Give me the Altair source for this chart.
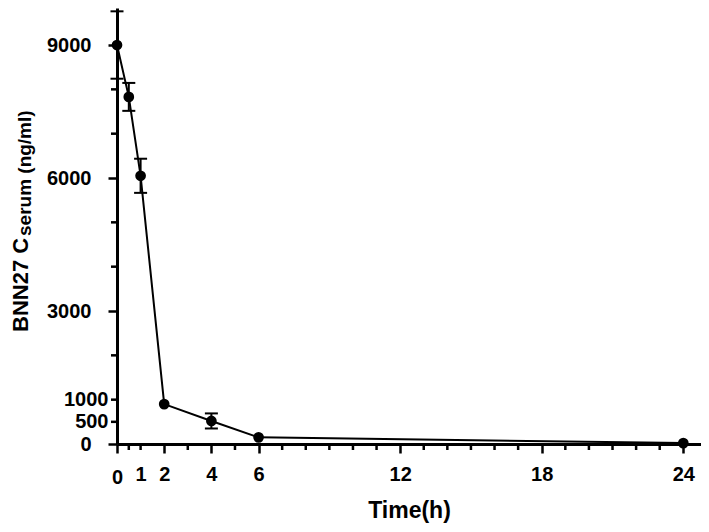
import altair as alt
import pandas as pd

# ---- data ----
time_h = [0, 0.5, 1, 2, 4, 6, 24]
conc = [9000, 7830, 6050, 900, 520, 150, 20]
sd = [760, 315, 385, 0, 170, 0, 0]

x_labeled = [0, 1, 2, 4, 6, 12, 18, 24]
x_minor = [0.5, 1, 3, 5, 7, 8, 9, 10, 11, 13, 14, 15, 16, 17, 19, 20, 21, 22, 23]
y_labeled = [0, 500, 1000, 3000, 6000, 9000]
y_minor = [500, 1000, 2000, 4000, 5000, 7000, 8000]

x_title = "Time(h)"
y_title_main = "BNN27 C"
y_title_sub = "serum (ng/ml)"

df = pd.DataFrame({"time": time_h, "conc": conc, "sd": sd})
df["lo"] = df["conc"] - df["sd"]
df["hi"] = df["conc"] + df["sd"]
err = df[df["sd"] > 0]

FONT = "Liberation Sans"
H = 436

x_axis = alt.Axis(
    values=x_labeled, format="d",
    tickSize={"condition": {"test": "datum.value == 1", "value": 0}, "value": 9},
    labelPadding={"condition": [{"test": "datum.value == 0", "value": 14},
                                {"test": "datum.value == 1", "value": 20}], "value": 11},
    labelFont=FONT, labelFontSize=20, labelFontWeight="bold", labelColor="black",
    labelOverlap=False, labelFlush=False, labelBound=False,
    title=x_title, titleFont=FONT, titleFontSize=23, titleFontWeight="bold",
    titleColor="black", titlePadding=12,
    domainColor="black", domainWidth=3, tickColor="black", tickWidth=2.5,
    grid=False,
)

y_axis = alt.Axis(
    values=y_labeled, format="d",
    tickSize={"condition": {"test": "datum.value == 500 || datum.value == 1000", "value": 0}, "value": 9},
    labelPadding={"condition": {"test": "datum.value == 500 || datum.value == 1000", "value": 9}, "value": 17},
    labelFont=FONT, labelFontSize=20, labelFontWeight="bold", labelColor="black",
    labelOverlap=False, labelFlush=False, labelBound=False,
    title="",
    domainColor="black", domainWidth=3, tickColor="black", tickWidth=2.5,
    grid=False,
)

xs = alt.Scale(domain=[0, 24.75], nice=False, zero=False)
ys = alt.Scale(domain=[0, 9835], nice=False)

base = alt.Chart(df)

line = base.mark_line(color="black", strokeWidth=2).encode(
    x=alt.X("time:Q", scale=xs, axis=x_axis),
    y=alt.Y("conc:Q", scale=ys, axis=y_axis),
)

xminor = alt.Chart(pd.DataFrame({"t": x_minor})).mark_rule(color="black", strokeWidth=2.5).encode(
    x=alt.X("t:Q", scale=xs),
    y=alt.value(H),
    y2=alt.value(H + 6),
)
yminor = alt.Chart(pd.DataFrame({"v": y_minor})).mark_rule(color="black", strokeWidth=2.5).encode(
    y=alt.Y("v:Q", scale=ys),
    x=alt.value(0),
    x2=alt.value(-6),
)

rules = alt.Chart(err).mark_rule(color="black", strokeWidth=2).encode(
    x=alt.X("time:Q", scale=xs),
    y=alt.Y("lo:Q", scale=ys),
    y2="hi:Q",
)

caps_hi = alt.Chart(err).mark_tick(color="black", orient="horizontal", size=13, thickness=2, opacity=1).encode(
    x=alt.X("time:Q", scale=xs),
    y=alt.Y("hi:Q", scale=ys),
)
caps_lo = alt.Chart(err).mark_tick(color="black", orient="horizontal", size=13, thickness=2, opacity=1).encode(
    x=alt.X("time:Q", scale=xs),
    y=alt.Y("lo:Q", scale=ys),
)

points = base.mark_circle(color="black", size=115, opacity=1).encode(
    x=alt.X("time:Q", scale=xs),
    y=alt.Y("conc:Q", scale=ys),
)

one = alt.Data(values=[{"k": 1}])
title_main = alt.Chart(one).mark_text(
    text=y_title_main, angle=270, align="left", baseline="alphabetic",
    font=FONT, fontSize=22, fontWeight="bold", color="black",
).encode(x=alt.value(-89), y=alt.value(324))

title_sub = alt.Chart(one).mark_text(
    text=y_title_sub, angle=270, align="left", baseline="alphabetic",
    font=FONT, fontSize=19, fontWeight="bold", color="black",
).encode(x=alt.value(-86), y=alt.value(228))

chart = alt.layer(line, xminor, yminor, rules, caps_hi, caps_lo, points, title_main, title_sub).properties(
    width=584, height=H,
    padding={"left": 109, "top": 0, "right": 0, "bottom": 86},
    autosize=alt.AutoSizeParams(type="none"),
).configure_view(stroke="transparent")

chart.save("out.html", embed_options={"renderer": "svg", "actions": False})
